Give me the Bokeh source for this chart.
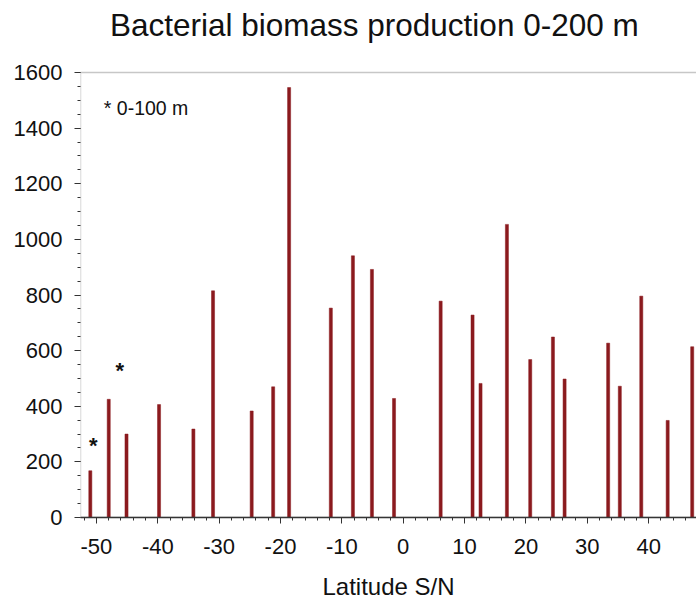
from bokeh.plotting import figure
from bokeh.models import (Range1d, SingleIntervalTicker, FixedTicker, Label,
                          BoxAnnotation, PrintfTickFormatter)
from bokeh.core.properties import value
from bokeh.embed import file_html
from bokeh.resources import INLINE

# Latitude (S negative / N positive) of each station
latitude = [-51.0, -48.0, -45.1, -39.8, -34.2, -31.0, -24.7, -21.2, -18.6, -11.8,
            -8.2, -5.1, -1.5, 6.1, 11.3, 12.6, 16.9, 20.7, 24.4, 26.3,
            33.4, 35.3, 38.8, 43.1, 47.1]
# Bacterial biomass production 0-200 m
production = [168, 425, 300, 406, 318, 815, 383, 470, 1546, 753,
              941, 892, 428, 778, 728, 482, 1054, 568, 649, 498,
              627, 472, 796, 349, 614]
# asterisks marking 0-100 m integration
star_x = [-50.5, -46.2]
star_y = [258, 528]
star_text = ["*", "*"]
# y-axis tick values
y_ticks = [0, 200, 400, 600, 800, 1000, 1200, 1400, 1600]
y_minor = list(range(0, 1601, 50))

TITLE = "Bacterial biomass production 0-200 m"
FONT = "Liberation Sans"
BAR = "#8B1A1E"
AX = "#333333"
Y_TOP = 1600

# frame reaches the top of the page so the title can sit at the very top
p = figure(width=696, height=602, output_backend="svg", toolbar_location=None,
           x_range=Range1d(-52.6, 47.8), y_range=Range1d(0, 1859),
           min_border_left=80, min_border_right=0, min_border_top=0,
           min_border_bottom=85)
p.outline_line_color = None
p.xgrid.visible = False
p.ygrid.visible = False
p.background_fill_color = "white"

# axes box (left and top lines) limited to 0..1600
p.add_layout(BoxAnnotation(bottom=0, top=Y_TOP, left=-52.6, right=49,
                           fill_alpha=0, line_color="#444444", line_width=1.4))

p.add_layout(Label(x=-47.8, y=1772, text=TITLE, text_font=FONT,
                   text_font_size="31.5px", text_baseline="alphabetic",
                   text_color="#111111"))

p.vbar(x=latitude, top=production, width=0.5, fill_color=BAR, line_color=BAR,
       line_width=0.5)

p.text(x=star_x, y=star_y, text=star_text, text_font=value(FONT),
       text_font_size="22px", text_font_style="bold", text_align="center",
       text_baseline="alphabetic", text_color="#111111")

p.add_layout(Label(x=-48.8, y=1472, text="* 0-100 m", text_font=FONT,
                   text_font_size="19.5px", text_baseline="alphabetic",
                   text_color="#111111"))

p.xaxis.ticker = SingleIntervalTicker(interval=10, num_minor_ticks=5)
p.yaxis.ticker = FixedTicker(ticks=y_ticks, minor_ticks=y_minor)
p.xaxis.formatter = PrintfTickFormatter(format="%d")
p.yaxis.formatter = PrintfTickFormatter(format="%d")

for ax in (p.xaxis, p.yaxis):
    ax.axis_line_color = AX
    ax.axis_line_width = 1.3
    ax.major_tick_line_color = AX
    ax.minor_tick_line_color = AX
    ax.major_tick_in = 0
    ax.major_tick_out = 6
    ax.minor_tick_in = 0
    ax.minor_tick_out = 3
    ax.major_label_text_font = FONT
    ax.major_label_text_font_size = "22px"
    ax.major_label_text_color = "#111111"
    ax.axis_label_text_font = FONT
    ax.axis_label_text_font_style = "normal"
    ax.axis_label_text_color = "#111111"

p.yaxis.axis_line_color = None
p.xaxis.axis_label = "Latitude S/N"
p.xaxis.axis_label_text_font_size = "24px"
p.xaxis.major_label_standoff = 15
p.xaxis.axis_label_standoff = 16
p.yaxis.major_label_standoff = 12

open("out.html", "w").write(file_html(p, INLINE))
